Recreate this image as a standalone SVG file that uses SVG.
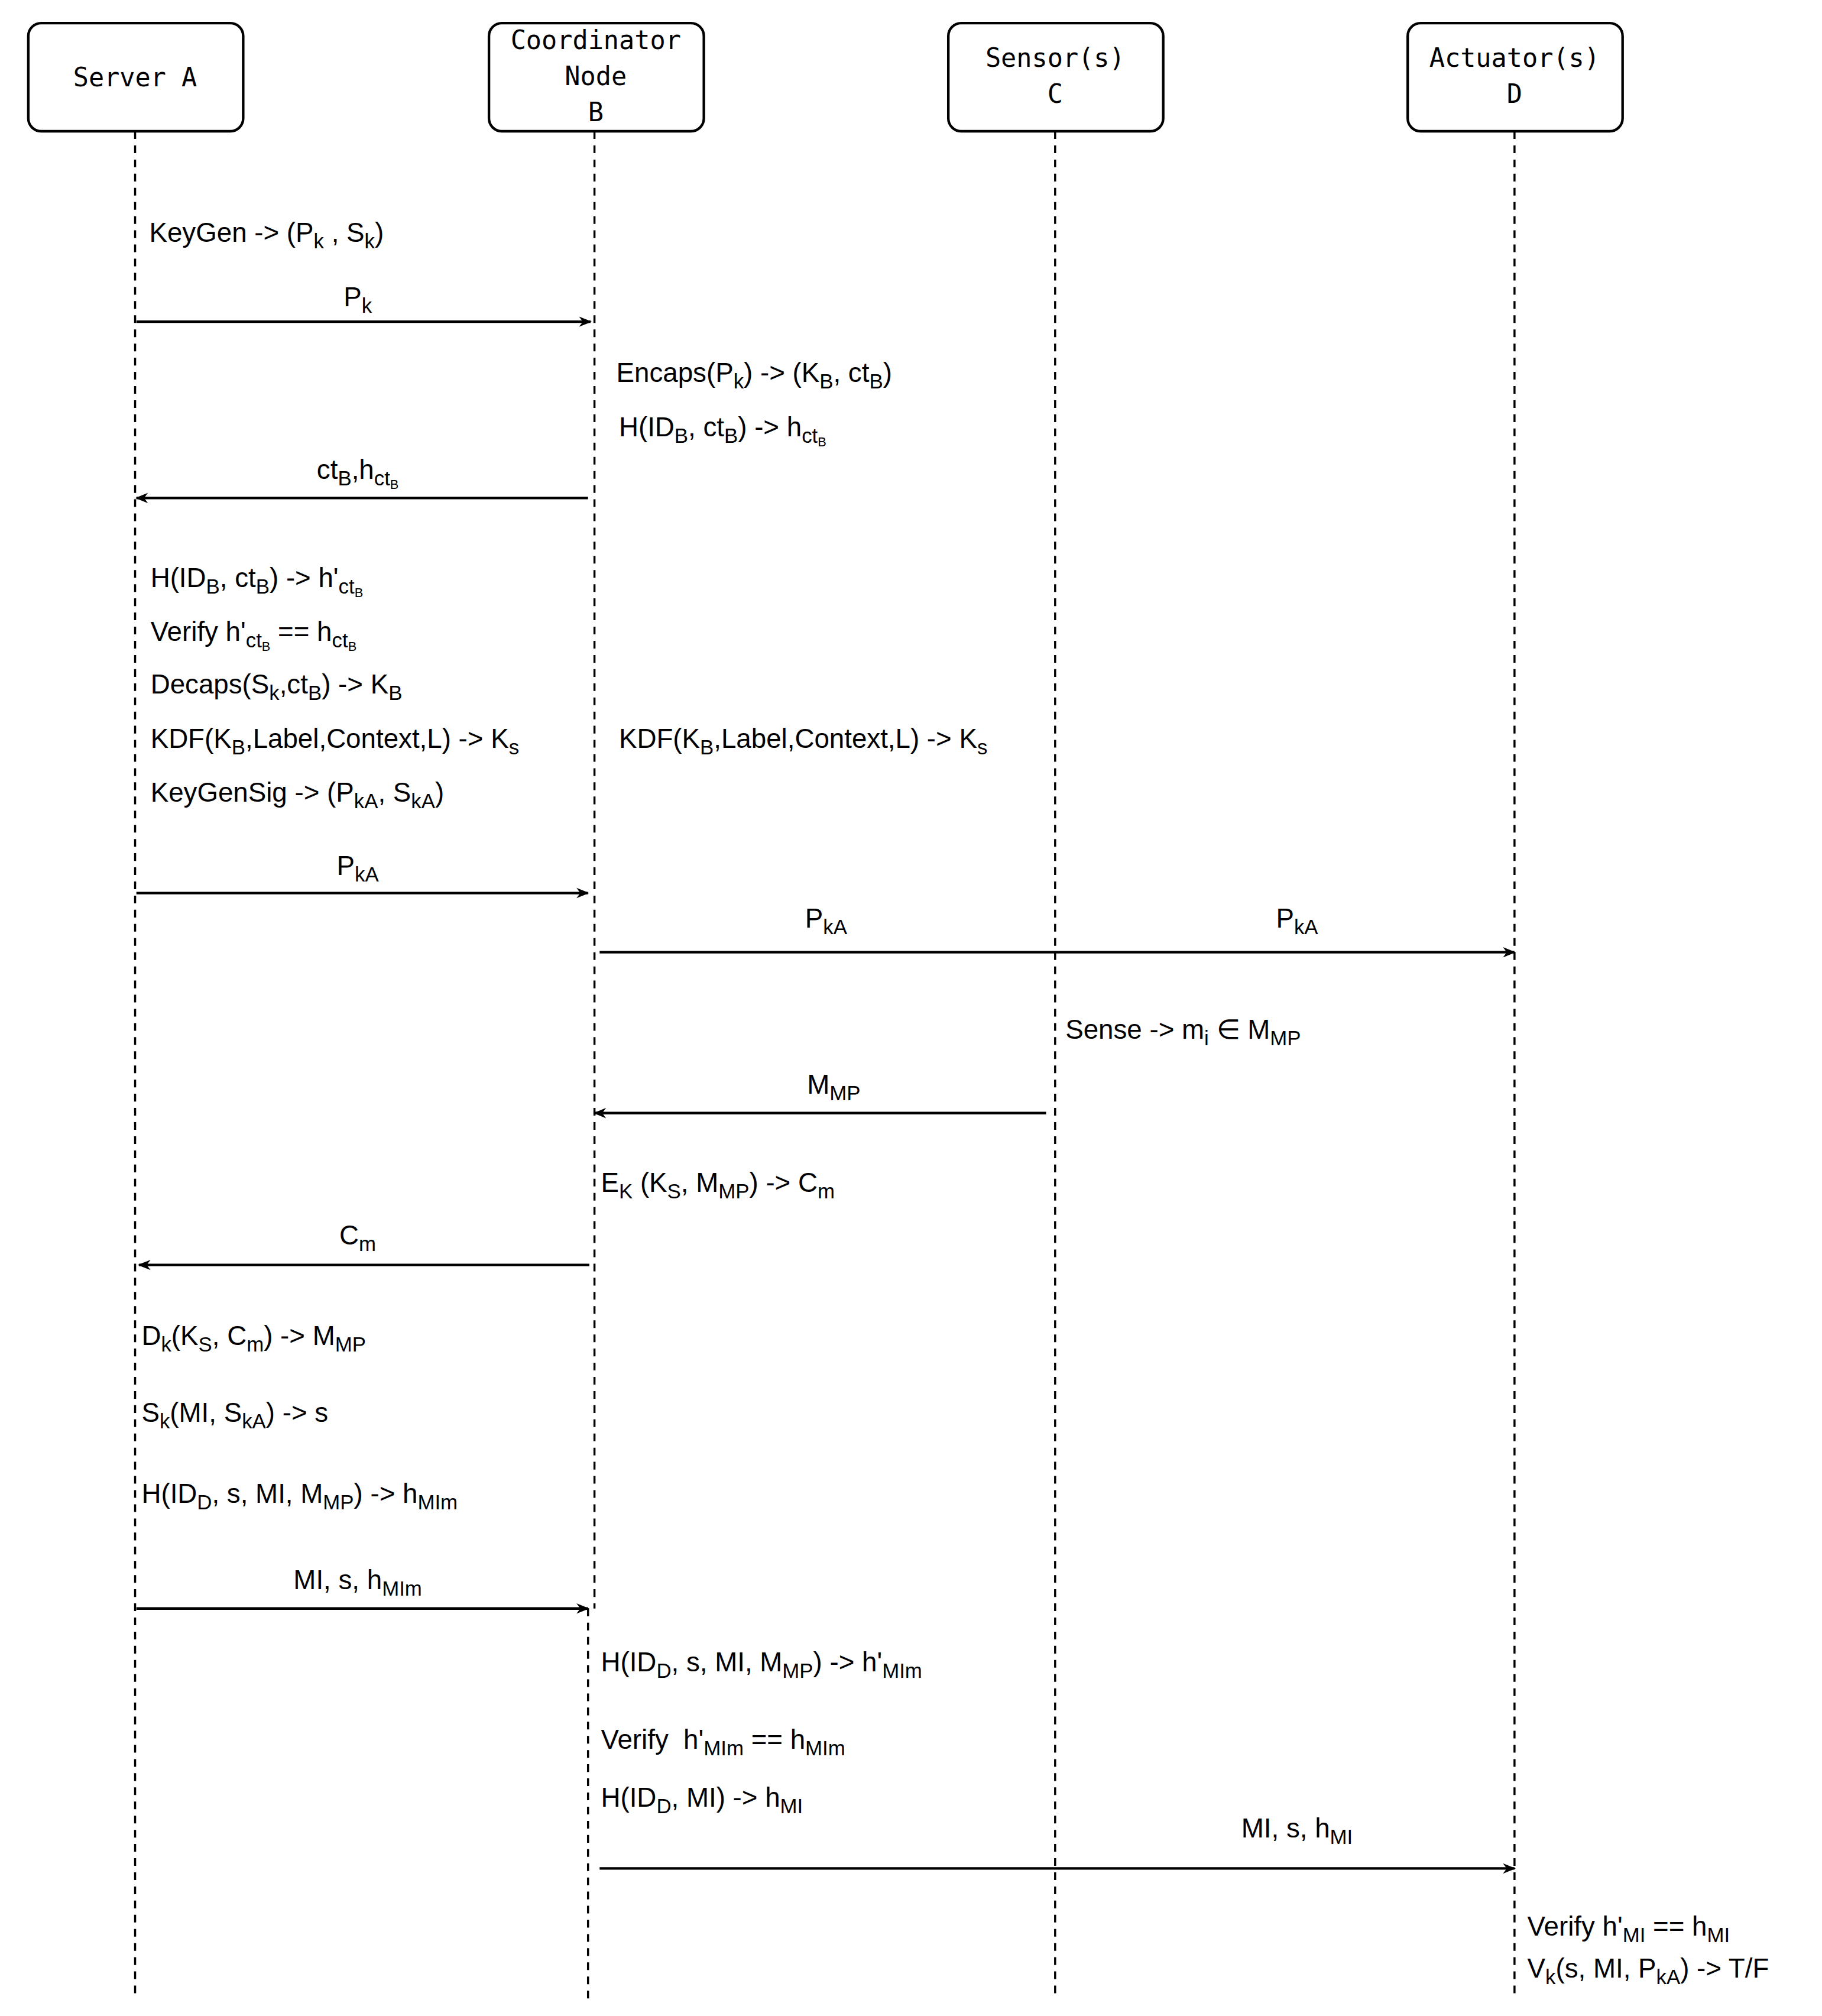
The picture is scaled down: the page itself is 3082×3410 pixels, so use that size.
<svg xmlns="http://www.w3.org/2000/svg" width="3082" height="3410" viewBox="0 0 3082 3410">
<defs>
<marker id="ah" viewBox="0 0 10 10" refX="9" refY="5" markerWidth="5" markerHeight="5" orient="auto-start-reverse" markerUnits="strokeWidth"><path d="M0,1 L10,5 L0,9 L3,5 Z" fill="#000"/></marker>
<style>
.box{fill:#fff;stroke:#000;stroke-width:2}
.hd{font-family:"DejaVu Sans Mono","Liberation Mono",monospace;font-size:20px;text-anchor:middle}
.life{stroke:#000;stroke-width:1.6;stroke-dasharray:6,5;fill:none}
.msg{stroke:#000;stroke-width:2;fill:none;marker-end:url(#ah)}
.t{font-family:"Liberation Sans",Arial,sans-serif;font-size:21px}
.c{text-anchor:middle}
.s{font-size:16px;baseline-shift:-5px}
.ss{font-size:10px;baseline-shift:-3px}
</style>
</defs>
<rect width="3082" height="3410" fill="#fff"/>
<g transform="scale(2.1766)">
<g id="lifelines">
<path class="life" d="M105,102 V1553"/>
<path class="life" d="M462,102 V1250 M457,1250 V1553"/>
<path class="life" d="M820,102 V1553"/>
<path class="life" d="M1177,102 V1553"/>
</g>
<g id="nodeA"><rect class="box" x="22" y="18" width="167" height="84" rx="10"/><text class="hd" x="105" y="67">Server A</text></g>
<g id="nodeB"><rect class="box" x="380" y="18" width="167" height="84" rx="10"/><text class="hd" x="463" y="38">Coordinator</text><text class="hd" x="463" y="66">Node</text><text class="hd" x="463" y="94">B</text></g>
<g id="nodeC"><rect class="box" x="737" y="18" width="167" height="84" rx="10"/><text class="hd" x="820" y="52">Sensor(s)</text><text class="hd" x="820" y="80">C</text></g>
<g id="nodeD"><rect class="box" x="1094" y="18" width="167" height="84" rx="10"/><text class="hd" x="1177" y="52">Actuator(s)</text><text class="hd" x="1177" y="80">D</text></g>
<g id="connectors">
<path class="msg" d="M106,250 H459"/>
<path class="msg" d="M457,387 H106"/>
<path class="msg" d="M106,694 H457"/>
<path class="msg" d="M466,740 H1177"/>
<path class="msg" d="M813,865 H462"/>
<path class="msg" d="M458,983 H108"/>
<path class="msg" d="M106,1250 H457"/>
<path class="msg" d="M466,1452 H1177"/>
</g>
<g id="labels" class="t">
<text class="c" x="278" y="238">P<tspan class="s">k</tspan></text>
<text class="c" x="278" y="372">ct<tspan class="s">B</tspan>,h<tspan class="s">ct<tspan class="ss">B</tspan></tspan></text>
<text class="c" x="278" y="680">P<tspan class="s">kA</tspan></text>
<text class="c" x="642" y="721">P<tspan class="s">kA</tspan></text>
<text class="c" x="1008" y="721">P<tspan class="s">kA</tspan></text>
<text class="c" x="648" y="850">M<tspan class="s">MP</tspan></text>
<text class="c" x="278" y="967">C<tspan class="s">m</tspan></text>
<text class="c" x="278" y="1235">MI, s, h<tspan class="s">MIm</tspan></text>
<text class="c" x="1008" y="1428">MI, s, h<tspan class="s">MI</tspan></text>
<text x="116" y="188">KeyGen -&gt; (P<tspan class="s">k</tspan> , S<tspan class="s">k</tspan>)</text>
<text x="479" y="297">Encaps(P<tspan class="s">k</tspan>) -&gt; (K<tspan class="s">B</tspan>, ct<tspan class="s">B</tspan>)</text>
<text x="481" y="339">H(ID<tspan class="s">B</tspan>, ct<tspan class="s">B</tspan>) -&gt; h<tspan class="s">ct<tspan class="ss">B</tspan></tspan></text>
<text x="117" y="456">H(ID<tspan class="s">B</tspan>, ct<tspan class="s">B</tspan>) -&gt; h'<tspan class="s">ct<tspan class="ss">B</tspan></tspan></text>
<text x="117" y="498">Verify h'<tspan class="s">ct<tspan class="ss">B</tspan></tspan> == h<tspan class="s">ct<tspan class="ss">B</tspan></tspan></text>
<text x="117" y="539">Decaps(S<tspan class="s">k</tspan>,ct<tspan class="s">B</tspan>) -&gt; K<tspan class="s">B</tspan></text>
<text x="117" y="581">KDF(K<tspan class="s">B</tspan>,Label,Context,L) -&gt; K<tspan class="s">s</tspan></text>
<text x="481" y="581">KDF(K<tspan class="s">B</tspan>,Label,Context,L) -&gt; K<tspan class="s">s</tspan></text>
<text x="117" y="623">KeyGenSig -&gt; (P<tspan class="s">kA</tspan>, S<tspan class="s">kA</tspan>)</text>
<text x="828" y="807">Sense -&gt; m<tspan class="s">i</tspan> ∈ M<tspan class="s">MP</tspan></text>
<text x="467" y="926">E<tspan class="s">K</tspan> (K<tspan class="s">S</tspan>, M<tspan class="s">MP</tspan>) -&gt; C<tspan class="s">m</tspan></text>
<text x="110" y="1045">D<tspan class="s">k</tspan>(K<tspan class="s">S</tspan>, C<tspan class="s">m</tspan>) -&gt; M<tspan class="s">MP</tspan></text>
<text x="110" y="1105">S<tspan class="s">k</tspan>(MI, S<tspan class="s">kA</tspan>) -&gt; s</text>
<text x="110" y="1168">H(ID<tspan class="s">D</tspan>, s, MI, M<tspan class="s">MP</tspan>) -&gt; h<tspan class="s">MIm</tspan></text>
<text x="467" y="1299">H(ID<tspan class="s">D</tspan>, s, MI, M<tspan class="s">MP</tspan>) -&gt; h'<tspan class="s">MIm</tspan></text>
<text x="467" y="1359" xml:space="preserve">Verify  h'<tspan class="s">MIm</tspan> == h<tspan class="s">MIm</tspan></text>
<text x="467" y="1404">H(ID<tspan class="s">D</tspan>, MI) -&gt; h<tspan class="s">MI</tspan></text>
<text x="1187" y="1504">Verify h'<tspan class="s">MI</tspan> == h<tspan class="s">MI</tspan></text>
<text x="1187" y="1537">V<tspan class="s">k</tspan>(s, MI, P<tspan class="s">kA</tspan>) -&gt; T/F</text>
</g>
</g>
</svg>
